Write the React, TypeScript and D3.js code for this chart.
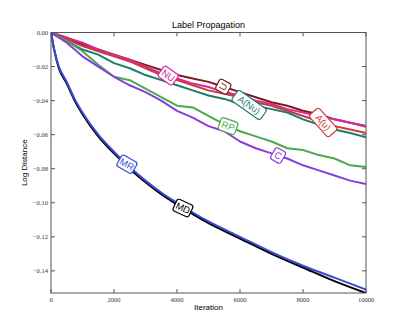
import React from "react";
import * as d3 from "d3";

// iteration grid shared by every series
const iters = [0, 500, 1000, 1500, 2000, 2500, 3000, 3500, 4000, 4500, 5000, 5500, 6000, 6500, 7000, 7500, 8000, 8500, 9000, 9500, 10000];
// MD / MR have a denser start because they drop fast
const itersFast = [0, 100, 250, 500, 750, 1000, 1500, 2000, 2500, 3000, 3500, 4000, 5000, 6000, 7000, 8000, 9000, 10000];

const uVals = [0, -0.003, -0.007, -0.010, -0.013, -0.016, -0.019, -0.022, -0.025, -0.027, -0.029, -0.032, -0.035, -0.038, -0.041, -0.043, -0.046, -0.048, -0.051, -0.053, -0.055];
const nuVals = [0, -0.003, -0.006, -0.010, -0.013, -0.016, -0.020, -0.024, -0.027, -0.030, -0.032, -0.035, -0.037, -0.040, -0.042, -0.045, -0.047, -0.049, -0.051, -0.053, -0.0553];
const auVals = [0, -0.004, -0.008, -0.011, -0.014, -0.017, -0.021, -0.025, -0.028, -0.031, -0.034, -0.036, -0.038, -0.041, -0.043, -0.046, -0.049, -0.052, -0.055, -0.057, -0.059];
const anuVals = [0, -0.005, -0.010, -0.013, -0.018, -0.021, -0.025, -0.028, -0.031, -0.034, -0.037, -0.039, -0.042, -0.043, -0.045, -0.047, -0.051, -0.054, -0.057, -0.059, -0.0615];
const rpVals = [0, -0.005, -0.011, -0.019, -0.026, -0.028, -0.033, -0.038, -0.043, -0.044, -0.049, -0.054, -0.058, -0.061, -0.064, -0.068, -0.069, -0.072, -0.074, -0.078, -0.079];
const cVals = [0, -0.006, -0.014, -0.020, -0.026, -0.031, -0.035, -0.040, -0.046, -0.050, -0.055, -0.058, -0.064, -0.068, -0.071, -0.074, -0.078, -0.081, -0.084, -0.087, -0.089];
const mrVals = [0, -0.010, -0.020, -0.029, -0.039, -0.047, -0.060, -0.070, -0.079, -0.087, -0.094, -0.100, -0.111, -0.120, -0.129, -0.137, -0.144, -0.151];
const mdVals = [0, -0.010, -0.021, -0.030, -0.040, -0.048, -0.061, -0.071, -0.080, -0.088, -0.095, -0.101, -0.112, -0.121, -0.130, -0.138, -0.146, -0.153];

const xTicks = [0, 2000, 4000, 6000, 8000, 10000];
const yTicks = [0, -0.02, -0.04, -0.06, -0.08, -0.1, -0.12, -0.14];

type S = { name: string; xs: number[]; ys: number[]; color: string; at: number; rot: number; smooth?: boolean };
const series: S[] = [
  { name: "U", xs: iters, ys: uVals, color: "#7e1b1b", at: 5470, rot: -62 },
  { name: "NU", xs: iters, ys: nuVals, color: "#d42a9e", at: 3720, rot: 35 },
  { name: "A(u)", xs: iters, ys: auVals, color: "#cc3a3a", at: 8640, rot: 48 },
  { name: "A(Nu)", xs: iters, ys: anuVals, color: "#1b7d6c", at: 6290, rot: 35 },
  { name: "RP", xs: iters, ys: rpVals, color: "#4da84d", at: 5620, rot: 20 },
  { name: "C", xs: iters, ys: cVals, color: "#8a3ddf", at: 7210, rot: 30 },
  { name: "MD", xs: itersFast, ys: mdVals, color: "#000000", at: 4190, rot: 25, smooth: true },
  { name: "MR", xs: itersFast, ys: mrVals, color: "#3a4bd4", at: 2410, rot: 30, smooth: true },
];

const W = 407, H = 326;
const left = 51, right = 366, top = 32.5, bottom = 293;

function interp(xs: number[], ys: number[], x: number) {
  const i = Math.min(Math.max(d3.bisectRight(xs, x), 1), xs.length - 1);
  const t = (x - xs[i - 1]) / (xs[i] - xs[i - 1]);
  return ys[i - 1] + t * (ys[i] - ys[i - 1]);
}

export default function App() {
  const x = d3.scaleLinear().domain([0, 10000]).range([left, right]);
  const y = d3.scaleLinear().domain([-0.153, 0]).range([bottom, top]);
  const line = (s: S) =>
    d3
      .line<number>()
      .x((_, i) => x(s.xs[i]))
      .y((d) => y(d))
      .curve(s.smooth ? d3.curveMonotoneX : d3.curveLinear)(s.ys) || "";
  const fmt = (v: number) => (v === 0 ? "0.00" : "\u22120." + d3.format("02d")(Math.round(Math.abs(v) * 100)));
  const tickFont = "'Liberation Serif', 'DejaVu Serif', serif";
  const sans = "'Liberation Sans', Arial, sans-serif";
  const axis = "#555";

  return (
    <svg width={W} height={H} style={{ position: "absolute", left: 0, top: 0, background: "#fff" }}>
      <defs>
        <clipPath id="plot">
          <rect x={left} y={top} width={right - left} height={bottom - top} />
        </clipPath>
      </defs>
      <g clipPath="url(#plot)">
        {series.map((s) => (
          <path key={s.name} d={line(s)} fill="none" stroke={s.color} strokeWidth={2} strokeLinejoin="round" />
        ))}
      </g>
      <rect x={left} y={top} width={right - left} height={bottom - top} fill="none" stroke={axis} strokeWidth={1} />
      {xTicks.map((t) => (
        <g key={"x" + t}>
          <line x1={x(t)} x2={x(t)} y1={bottom} y2={bottom - 4} stroke={axis} />
          <line x1={x(t)} x2={x(t)} y1={top} y2={top + 4} stroke={axis} />
          <text x={x(t)} y={bottom + 9} fontSize={6.5} textAnchor="middle" fontFamily={tickFont} fill="#333">{t}</text>
        </g>
      ))}
      {yTicks.map((t) => (
        <g key={"y" + t}>
          <line x1={left} x2={left + 4} y1={y(t)} y2={y(t)} stroke={axis} />
          <line x1={right} x2={right - 4} y1={y(t)} y2={y(t)} stroke={axis} />
          <text x={left - 3} y={y(t) + 2.3} fontSize={6.5} textAnchor="end" fontFamily={tickFont} fill="#333">{fmt(t)}</text>
        </g>
      ))}
      {series.map((s) => {
        const cx = x(s.at), cy = y(interp(s.xs, s.ys, s.at));
        const w = s.name.length * 5.8 + 6;
        return (
          <g key={"l" + s.name} transform={`translate(${cx},${cy}) rotate(${s.rot})`}>
            <rect x={-w / 2} y={-6.5} width={w} height={13} rx={2.5} fill="#fff" stroke={s.color} strokeWidth={1.2} />
            <text y={3.3} fontSize={9.5} textAnchor="middle" fontFamily={sans} fill={s.color}>{s.name}</text>
          </g>
        );
      })}
      <text x={(left + right) / 2} y={28} fontSize={9} textAnchor="middle" fontFamily={sans} fill="#000">Label Propagation</text>
      <text x={(left + right) / 2} y={310} fontSize={8} textAnchor="middle" fontFamily={sans} fill="#000">Iteration</text>
      <text transform={`translate(27,${(top + bottom) / 2}) rotate(-90)`} fontSize={8} textAnchor="middle" fontFamily={sans} fill="#000">Log Distance</text>
    </svg>
  );
}
